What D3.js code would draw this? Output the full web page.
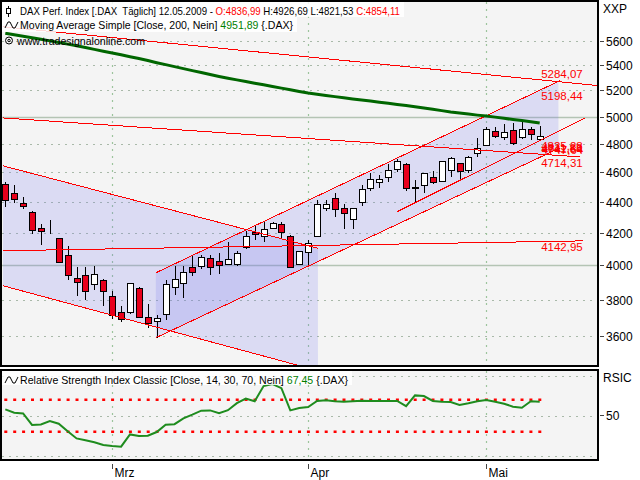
<!DOCTYPE html>
<meta charset="utf-8">
<script src="https://d3js.org/d3.v7.min.js"></script>
<style>
  body { margin: 0; background: #fff; }
  text { font-family: "Liberation Sans", Arial, sans-serif; white-space: pre; }
</style>
<div id="chart"></div>
<script>

// trading days shown on the chart
var dates = ["2009-02-12","2009-02-13","2009-02-16","2009-02-17","2009-02-18","2009-02-19","2009-02-20","2009-02-23","2009-02-24","2009-02-25","2009-02-26","2009-02-27",
  "2009-03-02","2009-03-03","2009-03-04","2009-03-05","2009-03-06","2009-03-09","2009-03-10","2009-03-11","2009-03-12","2009-03-13","2009-03-16","2009-03-17","2009-03-18","2009-03-19","2009-03-20","2009-03-23","2009-03-24","2009-03-25","2009-03-26","2009-03-27","2009-03-30","2009-03-31",
  "2009-04-01","2009-04-02","2009-04-03","2009-04-06","2009-04-07","2009-04-08","2009-04-09","2009-04-14","2009-04-15","2009-04-16","2009-04-17","2009-04-20","2009-04-21","2009-04-22","2009-04-23","2009-04-24","2009-04-27","2009-04-28","2009-04-29","2009-04-30",
  "2009-05-04","2009-05-05","2009-05-06","2009-05-07","2009-05-08","2009-05-11","2009-05-12"];

var open  = [4520,4460,4393,4335,4232,4218,4168,4062,3927,3943,3890,3913,3823,3730,3730,3867,3702,3678,3721,3872,
             3896,3992,3994,4045,4026,4011,4008,4111,4207,4182,4228,4255,4182,4010,4081,4182,4361,4425,4361,4288,
             4398,4491,4532,4570,4621,4660,4489,4514,4566,4543,4616,4663,4616,4733,4788,4896,4850,4899,4850,4907,4836.99];
var high  = [4530,4514,4429,4340,4258,4283,4170,4119,3990,3988,3998,3918,3847,3762,3898,3870,3777,3715,3915,3998,
             3998,4054,4065,4065,4075,4145,4090,4214,4241,4270,4267,4272,4185,4090,4157,4414,4414,4462,4385,4361,
             4514,4594,4580,4657,4695,4665,4548,4595,4611,4680,4709,4665,4713,4841,4926,4926,4943,4955,4975,4926,4926.69];
var low   = [4369,4395,4356,4196,4127,4190,4015,3915,3818,3796,3853,3765,3691,3672,3719,3700,3642,3587,3684,3828,
             3807,3940,3980,3945,3950,4005,3994,4100,4153,4141,4225,4161,3988,4005,3994,4175,4340,4304,4226,4226,
             4374,4469,4491,4532,4600,4469,4395,4457,4521,4540,4570,4548,4597,4709,4785,4841,4826,4790,4836,4828,4821.53];
var close = [4409,4418,4372,4218,4209,4218,4020,3943,3902,3847,3949,3847,3711,3693,3896,3702,3669,3695,3890,3921,
             3962,3960,4051,3991,4002,4039,4078,4182,4193,4224,4262,4207,3990,4087,4136,4387,4385,4352,4326,4361,
             4487,4556,4552,4616,4679,4491,4502,4594,4534,4677,4698,4605,4705,4769,4907,4855,4887,4809,4911,4870,4854.11];

// Moving Average Simple (200)
var ma200 = [5665,5652,5640,5627,5614,5601,5588,5574,5560,5545,5530,5515,5500,
             5485,5470,5455,5438,5421,5405,5389,5373,5357,5341,5325,5310,5296,5283,5270,5257,5244,5231,5218,5205,5192,5180,5170,
             5161,5152,5143,5134,5126,5118,5109,5101,5092,5084,5074,5064,5055,5045,5035,5027,5019,5011,5004,4996,4987,4978,4970,4961,4951.89];

// RSI classic (14)
var rsi = [57.9,53.8,52.9,38.4,39.1,43.4,40.0,30.6,21.6,19.4,
           16.9,13.4,12.1,11.3,26.6,24.6,25.0,29.6,38.8,39.4,
           46.6,51.3,56.3,56.6,53.1,56.9,65.6,71.3,68.1,87.1,
           89.6,84.4,56.6,59.6,60.9,68.5,69.4,68.1,67.5,68.1,
           68.8,68.4,68.4,68.4,68.4,61.9,75.4,74.6,68.4,67.5,
           67.1,63.5,65.6,68.1,69.6,67.5,65.0,61.3,60.0,68.1,67.45];

var priceTicks = [5600,5400,5200,5000,4800,4600,4400,4200,4000,3800,3600];
var monthLabels = ["Mrz","Apr","Mai"];
var monthStarts = ["2009-03-02","2009-04-01","2009-05-04"];

// drawn trend lines: [bar index, price] at start and end
var trendStart = [[-0.26,5721],[16.9,3956],[16.9,3589],[43.98,4335],[-0.26,4990],[-0.26,4089],[-0.26,4644],[-0.26,3880]];
var trendEnd   = [[66.54,5238],[62.28,5277],[62.28,4771],[65.08,4990],[64.52,4707],[64.86,4150],[35.1,4104],[35.1,3416]];
var trendLabels = [["5284,07"],["5198,44"],["4714,31"],["4825,28","4811,88"],["4741,54","4747,64"],["4142,95"],[],[]];
// channels (pairs of trend lines) that are shaded, with their bar range
var channelLines = [[6,7],[1,2]];
var channelRange = [[-0.26,35.1],[16.9,62.1]];

var W = 640, H = 480;

var svg = d3.select("#chart").append("svg")
    .attr("width", W).attr("height", H)
    .style("display", "block");

svg.append("rect").attr("width", W).attr("height", H).attr("fill", "#fff");

var x = d3.scaleLinear().domain([0, dates.length - 1]).range([5.3, 539.7]);
var y = d3.scaleLog().domain([3600, 5600]).range([335.7, 41]);
var yr = d3.scaleLinear().domain([0, 100]).range([455.7, 375.7]);

var defs = svg.append("defs");
defs.append("clipPath").attr("id", "clipMain")
  .append("rect").attr("x", 2).attr("y", 2).attr("width", 595).attr("height", 363);
defs.append("clipPath").attr("id", "clipSub")
  .append("rect").attr("x", 2).attr("y", 371).attr("width", 595).attr("height", 88);

// panel backgrounds
svg.append("rect").attr("x", 1).attr("y", 1).attr("width", 597).attr("height", 365).attr("fill", "#f4f4f4");
svg.append("rect").attr("x", 1).attr("y", 370).attr("width", 597).attr("height", 90).attr("fill", "#f4f4f4");

var gMain = svg.append("g").attr("clip-path", "url(#clipMain)");
var gSub = svg.append("g").attr("clip-path", "url(#clipSub)");

// grid
priceTicks.forEach(function (p) {
  var solid = p % 1000 === 0;
  gMain.append("line")
    .attr("x1", 2).attr("x2", 597)
    .attr("y1", Math.round(y(p)) + 0.5).attr("y2", Math.round(y(p)) + 0.5)
    .attr("stroke", solid ? "#b4c4b4" : "#a9b9a9")
    .attr("stroke-width", solid ? 1.5 : 1.2)
    .attr("stroke-dasharray", solid ? null : "2,5");
});
monthStarts.forEach(function (d) {
  var xx = Math.round(x(dates.indexOf(d))) + 0.5;
  gMain.append("line").attr("x1", xx).attr("x2", xx).attr("y1", 2).attr("y2", 366)
    .attr("stroke", "#9cc49c").attr("stroke-width", 1.2).attr("stroke-dasharray", "2,5");
  gSub.append("line").attr("x1", xx).attr("x2", xx).attr("y1", 371).attr("y2", 460)
    .attr("stroke", "#9cc49c").attr("stroke-width", 1.2).attr("stroke-dasharray", "2,5");
});
[0, 50, 100].forEach(function (v) {
  gSub.append("line").attr("x1", 2).attr("x2", 597)
    .attr("y1", Math.round(yr(v)) + 0.5).attr("y2", Math.round(yr(v)) + 0.5)
    .attr("stroke", "#a9b9a9").attr("stroke-width", 1.2).attr("stroke-dasharray", "2,5");
});

// price of a trend line at bar index i (straight on the log scale)
function lineAt(k, i) {
  var a = trendStart[k], b = trendEnd[k];
  var t = (i - a[0]) / (b[0] - a[0]);
  return Math.exp(Math.log(a[1]) + t * (Math.log(b[1]) - Math.log(a[1])));
}

// shaded channels
channelLines.forEach(function (pair, c) {
  var r = channelRange[c];
  var pts = [
    [x(r[0]), y(lineAt(pair[0], r[0]))],
    [x(r[1]), y(lineAt(pair[0], r[1]))],
    [x(r[1]), y(lineAt(pair[1], r[1]))],
    [x(r[0]), y(lineAt(pair[1], r[0]))]
  ];
  gMain.append("polygon")
    .attr("points", pts.map(function (p) { return p.join(","); }).join(" "))
    .attr("fill", "rgb(120,120,240)").attr("fill-opacity", 0.2);
});

// candles
dates.forEach(function (d, i) {
  var cx = Math.round(x(i)) + 0.5;
  var up = close[i] >= open[i];
  var top = Math.round(y(Math.max(open[i], close[i]))) + 0.5;
  var bot = Math.round(y(Math.min(open[i], close[i]))) + 0.5;
  gMain.append("line")
    .attr("x1", cx).attr("x2", cx)
    .attr("y1", y(high[i])).attr("y2", y(low[i]))
    .attr("stroke", "#000").attr("shape-rendering", "crispEdges");
  gMain.append("rect")
    .attr("x", cx - 3).attr("y", top)
    .attr("width", 6).attr("height", bot - top)
    .attr("fill", up ? "#ffffff" : "#e8001c")
    .attr("stroke", "#000");
});

// trend lines
trendStart.forEach(function (s, k) {
  var e = trendEnd[k];
  gMain.append("line")
    .attr("x1", x(s[0])).attr("y1", y(s[1]))
    .attr("x2", x(e[0])).attr("y2", y(e[1]))
    .attr("stroke", "#ff0000").attr("stroke-width", 1)
    .attr("shape-rendering", "crispEdges");
});

// moving average
gMain.append("path")
  .datum(ma200)
  .attr("d", d3.line().x(function (d, i) { return x(i); }).y(function (d) { return y(d); }))
  .attr("fill", "none").attr("stroke", "#006600").attr("stroke-width", 3);

// trend line value labels
trendLabels.forEach(function (labs, k) {
  var last = dates.length - 1;
  var ly = y(lineAt(k, last));
  var falling = trendEnd[k][1] < trendStart[k][1];
  labs.forEach(function (t, j) {
    svg.append("text")
      .attr("x", x(last) + 1.5 + j * 0.5)
      .attr("y", (falling ? ly - 1.5 : ly + 9.5) + j * 1.5)
      .attr("fill", "#ff0000").attr("font-size", "11.5px")
      .text(t);
  });
});

// RSI 30/70 levels
[70, 30].forEach(function (v) {
  gSub.append("line")
    .attr("x1", x(0) - 1).attr("x2", x(dates.length - 1) + 2)
    .attr("y1", yr(v)).attr("y2", yr(v))
    .attr("stroke", "#ff0000").attr("stroke-width", 2.5)
    .attr("stroke-dasharray", "3,5.9");
});
gSub.append("path")
  .datum(rsi)
  .attr("d", d3.line().x(function (d, i) { return x(i); }).y(function (d) { return yr(d); }))
  .attr("fill", "none").attr("stroke", "#1e8c1e").attr("stroke-width", 2);

// legends
svg.append("rect").attr("x", 2).attr("y", 2).attr("width", 402).attr("height", 15).attr("fill", "#fff").attr("fill-opacity", 0.85);
svg.append("rect").attr("x", 2).attr("y", 17).attr("width", 295).attr("height", 15).attr("fill", "#fff").attr("fill-opacity", 0.85);
svg.append("rect").attr("x", 2).attr("y", 371).attr("width", 350).attr("height", 14).attr("fill", "#fff").attr("fill-opacity", 0.85);

// candle icon
svg.append("line").attr("x1", 8.5).attr("x2", 8.5).attr("y1", 6).attr("y2", 17).attr("stroke", "#000");
svg.append("rect").attr("x", 6.5).attr("y", 8.5).attr("width", 4).attr("height", 5).attr("fill", "#fff").attr("stroke", "#000");
// wave icons
[28, 383].forEach(function (b) {
  svg.append("polyline")
    .attr("points", [[5, b], [8, b - 6], [10, b - 6], [13, b], [15, b], [18, b - 6]].map(function (p) { return p.join(","); }).join(" "))
    .attr("fill", "none").attr("stroke", "#000").attr("stroke-width", 1);
});
// copyright icon
svg.append("circle").attr("cx", 9).attr("cy", 40.5).attr("r", 3.5).attr("fill", "none").attr("stroke", "#000");
svg.append("circle").attr("cx", 9).attr("cy", 40.5).attr("r", 1.2).attr("fill", "none").attr("stroke", "#000");

function legend(xp, yp, len, parts) {
  var t = svg.append("text").attr("x", xp).attr("y", yp)
    .attr("font-size", "11.5px")
    .attr("textLength", len).attr("lengthAdjust", "spacingAndGlyphs");
  parts.forEach(function (p) {
    t.append("tspan").attr("fill", p[1]).text(p[0]);
  });
}
legend(20, 15, 380, [["DAX Perf. Index [.DAX  Täglich] 12.05.2009 - ", "#000"], ["O:4836,99", "#ff0000"],
  [" H:4926,69 L:4821,53 ", "#000"], ["C:4854,11", "#ff0000"]]);
legend(20, 28.5, 273, [["Moving Average Simple [Close, 200, Nein] ", "#000"], ["4951,89", "#008000"], [" {.DAX}", "#000"]]);
legend(17, 45, 128, [["www.tradesignalonline.com", "#000"]]);
legend(20, 384, 328, [["Relative Strength Index Classic [Close, 14, 30, 70, Nein] ", "#000"], ["67,45", "#008000"], [" {.DAX}", "#000"]]);

// right axis
priceTicks.forEach(function (p) {
  var yy = Math.round(y(p)) + 0.5;
  svg.append("line").attr("x1", 600).attr("x2", 604).attr("y1", yy).attr("y2", yy).attr("stroke", "#444");
  svg.append("text").attr("x", 606).attr("y", yy).attr("dy", "0.36em")
    .attr("font-size", "12px").attr("fill", "#000").text(p);
});
svg.append("text").attr("x", 603).attr("y", 13).attr("font-size", "12px").text("XXP");
svg.append("text").attr("x", 603).attr("y", 382).attr("font-size", "12px").text("RSIC");
svg.append("line").attr("x1", 600).attr("x2", 604).attr("y1", 415.5).attr("y2", 415.5).attr("stroke", "#444");
svg.append("text").attr("x", 606).attr("y", 415.5).attr("dy", "0.36em").attr("font-size", "12px").text("50");

// time axis
monthStarts.forEach(function (d, k) {
  var xx = Math.round(x(dates.indexOf(d))) + 0.5;
  svg.append("line").attr("x1", xx).attr("x2", xx).attr("y1", 464).attr("y2", 469).attr("stroke", "#444");
  svg.append("text").attr("x", xx + 2).attr("y", 477).attr("font-size", "12px").text(monthLabels[k]);
});

// panel borders
svg.append("rect").attr("x", 1).attr("y", 1).attr("width", 597).attr("height", 365)
  .attr("fill", "none").attr("stroke", "#000").attr("stroke-width", 2);
svg.append("rect").attr("x", 1).attr("y", 370).attr("width", 597).attr("height", 90)
  .attr("fill", "none").attr("stroke", "#000").attr("stroke-width", 2);

</script>
